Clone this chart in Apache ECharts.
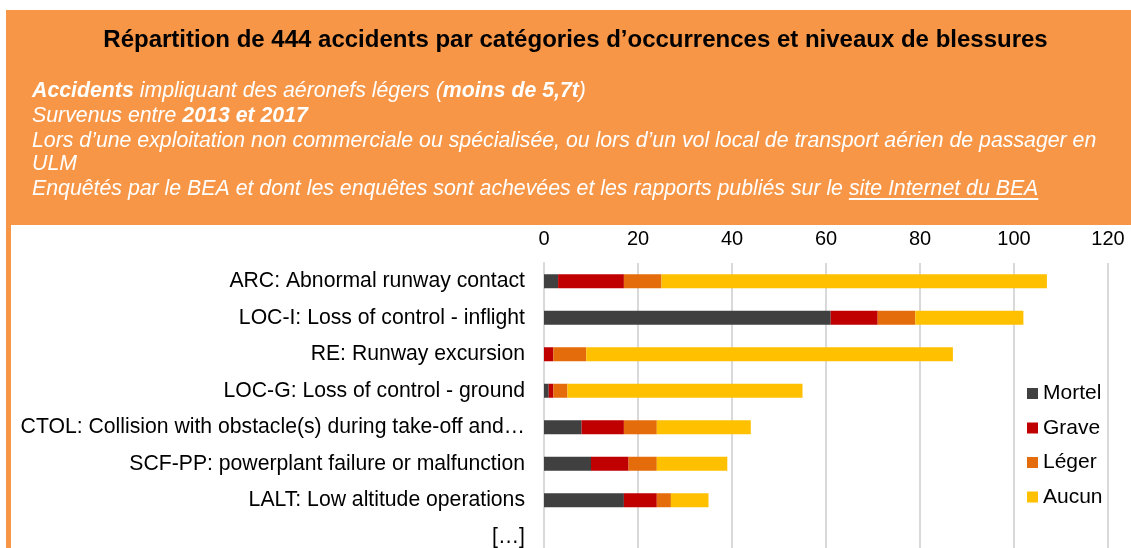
<!DOCTYPE html>
<html>
<head>
<meta charset="utf-8">
<script src="https://cdn.jsdelivr.net/npm/echarts@6/dist/echarts.min.js"></script>
<style>
html,body{margin:0;padding:0;background:#fff;overflow:hidden;}
#chart{width:1131px;height:560px;}
</style>
</head>
<body>
<div id="chart"></div>
<script>
// ---- data ----
const categories = [
  'ARC: Abnormal runway contact',
  'LOC-I: Loss of control - inflight',
  'RE: Runway excursion',
  'LOC-G: Loss of control - ground',
  'CTOL: Collision with obstacle(s) during take-off and…',
  'SCF-PP: powerplant failure or malfunction',
  'LALT: Low altitude operations',
  '[…]'
];
const mortel = [3, 61, 0, 1, 8, 10, 17, null];
const grave  = [14, 10, 2, 1, 9, 8, 7, null];
const leger  = [8, 8, 7, 3, 7, 6, 3, null];
const aucun  = [82, 23, 78, 50, 20, 15, 8, null];
const seriesNames = ['Mortel', 'Grave', 'Léger', 'Aucun'];
const xTicks = [0, 20, 40, 60, 80, 100, 120];

const titleText = 'Répartition de 444 accidents par catégories d’occurrences et niveaux de blessures';
const sub5prefix = 'Enquêtés par le BEA et dont les enquêtes sont achevées et les rapports publiés sur le ';
const sub5link = 'site Internet du BEA';

// ---- chart ----
const FONT = '"Liberation Sans", Arial, sans-serif';
const SUBSIZE = 21.3;
const colors = ['#404040', '#C00000', '#E46C0A', '#FFC000'];
const chart = echarts.init(document.getElementById('chart'), null, {renderer: 'canvas'});

const cv = document.createElement('canvas').getContext('2d');
cv.font = 'italic ' + SUBSIZE + 'px ' + FONT;
const linkX = 32 + cv.measureText(sub5prefix).width;
const linkW = cv.measureText(sub5link).width;

const rich = {
  n: {fontFamily: FONT, fontSize: SUBSIZE, fontStyle: 'italic', color: '#fff'},
  b: {fontFamily: FONT, fontSize: SUBSIZE, fontStyle: 'italic', fontWeight: 'bold', color: '#fff'}
};
function subLine(y, text) {
  return {type: 'text', z: 10,
    style: {x: 32, y: y, text: text, rich: rich, verticalAlign: 'middle', align: 'left',
      fontFamily: FONT, fontSize: SUBSIZE, fontStyle: 'italic', fill: '#fff'}};
}

const dataArrays = [mortel, grave, leger, aucun];
const series = seriesNames.map((name, i) => ({
  name: name, type: 'bar', stack: 'total', barWidth: 14,
  itemStyle: {color: colors[i]},
  data: dataArrays[i]
}));

chart.setOption({
  backgroundColor: '#fff',
  animation: false,
  color: colors,
  graphic: [
    {type: 'rect', shape: {x: 6, y: 10, width: 1125, height: 550}, style: {fill: '#F79646'}, z: -20, silent: true},
    {type: 'rect', shape: {x: 11, y: 225, width: 1120, height: 335}, style: {fill: '#fff'}, z: -19, silent: true},
    {type: 'text', z: 10,
      style: {x: 575.5, y: 40, text: titleText, align: 'center', verticalAlign: 'middle',
        fontFamily: FONT, fontSize: 24, fontWeight: 'bold', fill: '#000'}},
    subLine(91, '{b|Accidents}{n| impliquant des aéronefs légers (}{b|moins de 5,7t}{n|)}'),
    subLine(116, '{n|Survenus entre }{b|2013 et 2017}'),
    subLine(141, '{n|Lors d’une exploitation non commerciale ou spécialisée, ou lors d’un vol local de transport aérien de passager en}'),
    subLine(164.5, '{n|ULM}'),
    subLine(189.5, '{n|' + sub5prefix + sub5link + '}'),
    {type: 'line', z: 10, shape: {x1: linkX, y1: 199, x2: linkX + linkW, y2: 199},
      style: {stroke: '#fff', lineWidth: 2}}
  ],
  legend: {
    data: seriesNames,
    orient: 'vertical',
    left: 1022, top: 378,
    itemWidth: 11, itemHeight: 11, itemGap: 13.5,
    icon: 'rect',
    textStyle: {fontFamily: FONT, fontSize: 21, color: '#000', lineHeight: 21}
  },
  grid: {left: 544, top: 263, width: 564, height: 292, containLabel: false},
  xAxis: {
    type: 'value', position: 'top', min: xTicks[0], max: xTicks[xTicks.length - 1], interval: 20,
    axisLine: {show: false}, axisTick: {show: false},
    splitLine: {lineStyle: {color: '#D9D9D9', width: 2}},
    axisLabel: {fontFamily: FONT, fontSize: 20, color: '#000', margin: 14}
  },
  yAxis: {
    type: 'category', inverse: true, data: categories,
    axisLine: {lineStyle: {color: '#D9D9D9', width: 2}},
    axisTick: {show: false},
    axisLabel: {fontFamily: FONT, fontSize: 21.2, color: '#000', margin: 19}
  },
  series: series
});
</script>
</body>
</html>
